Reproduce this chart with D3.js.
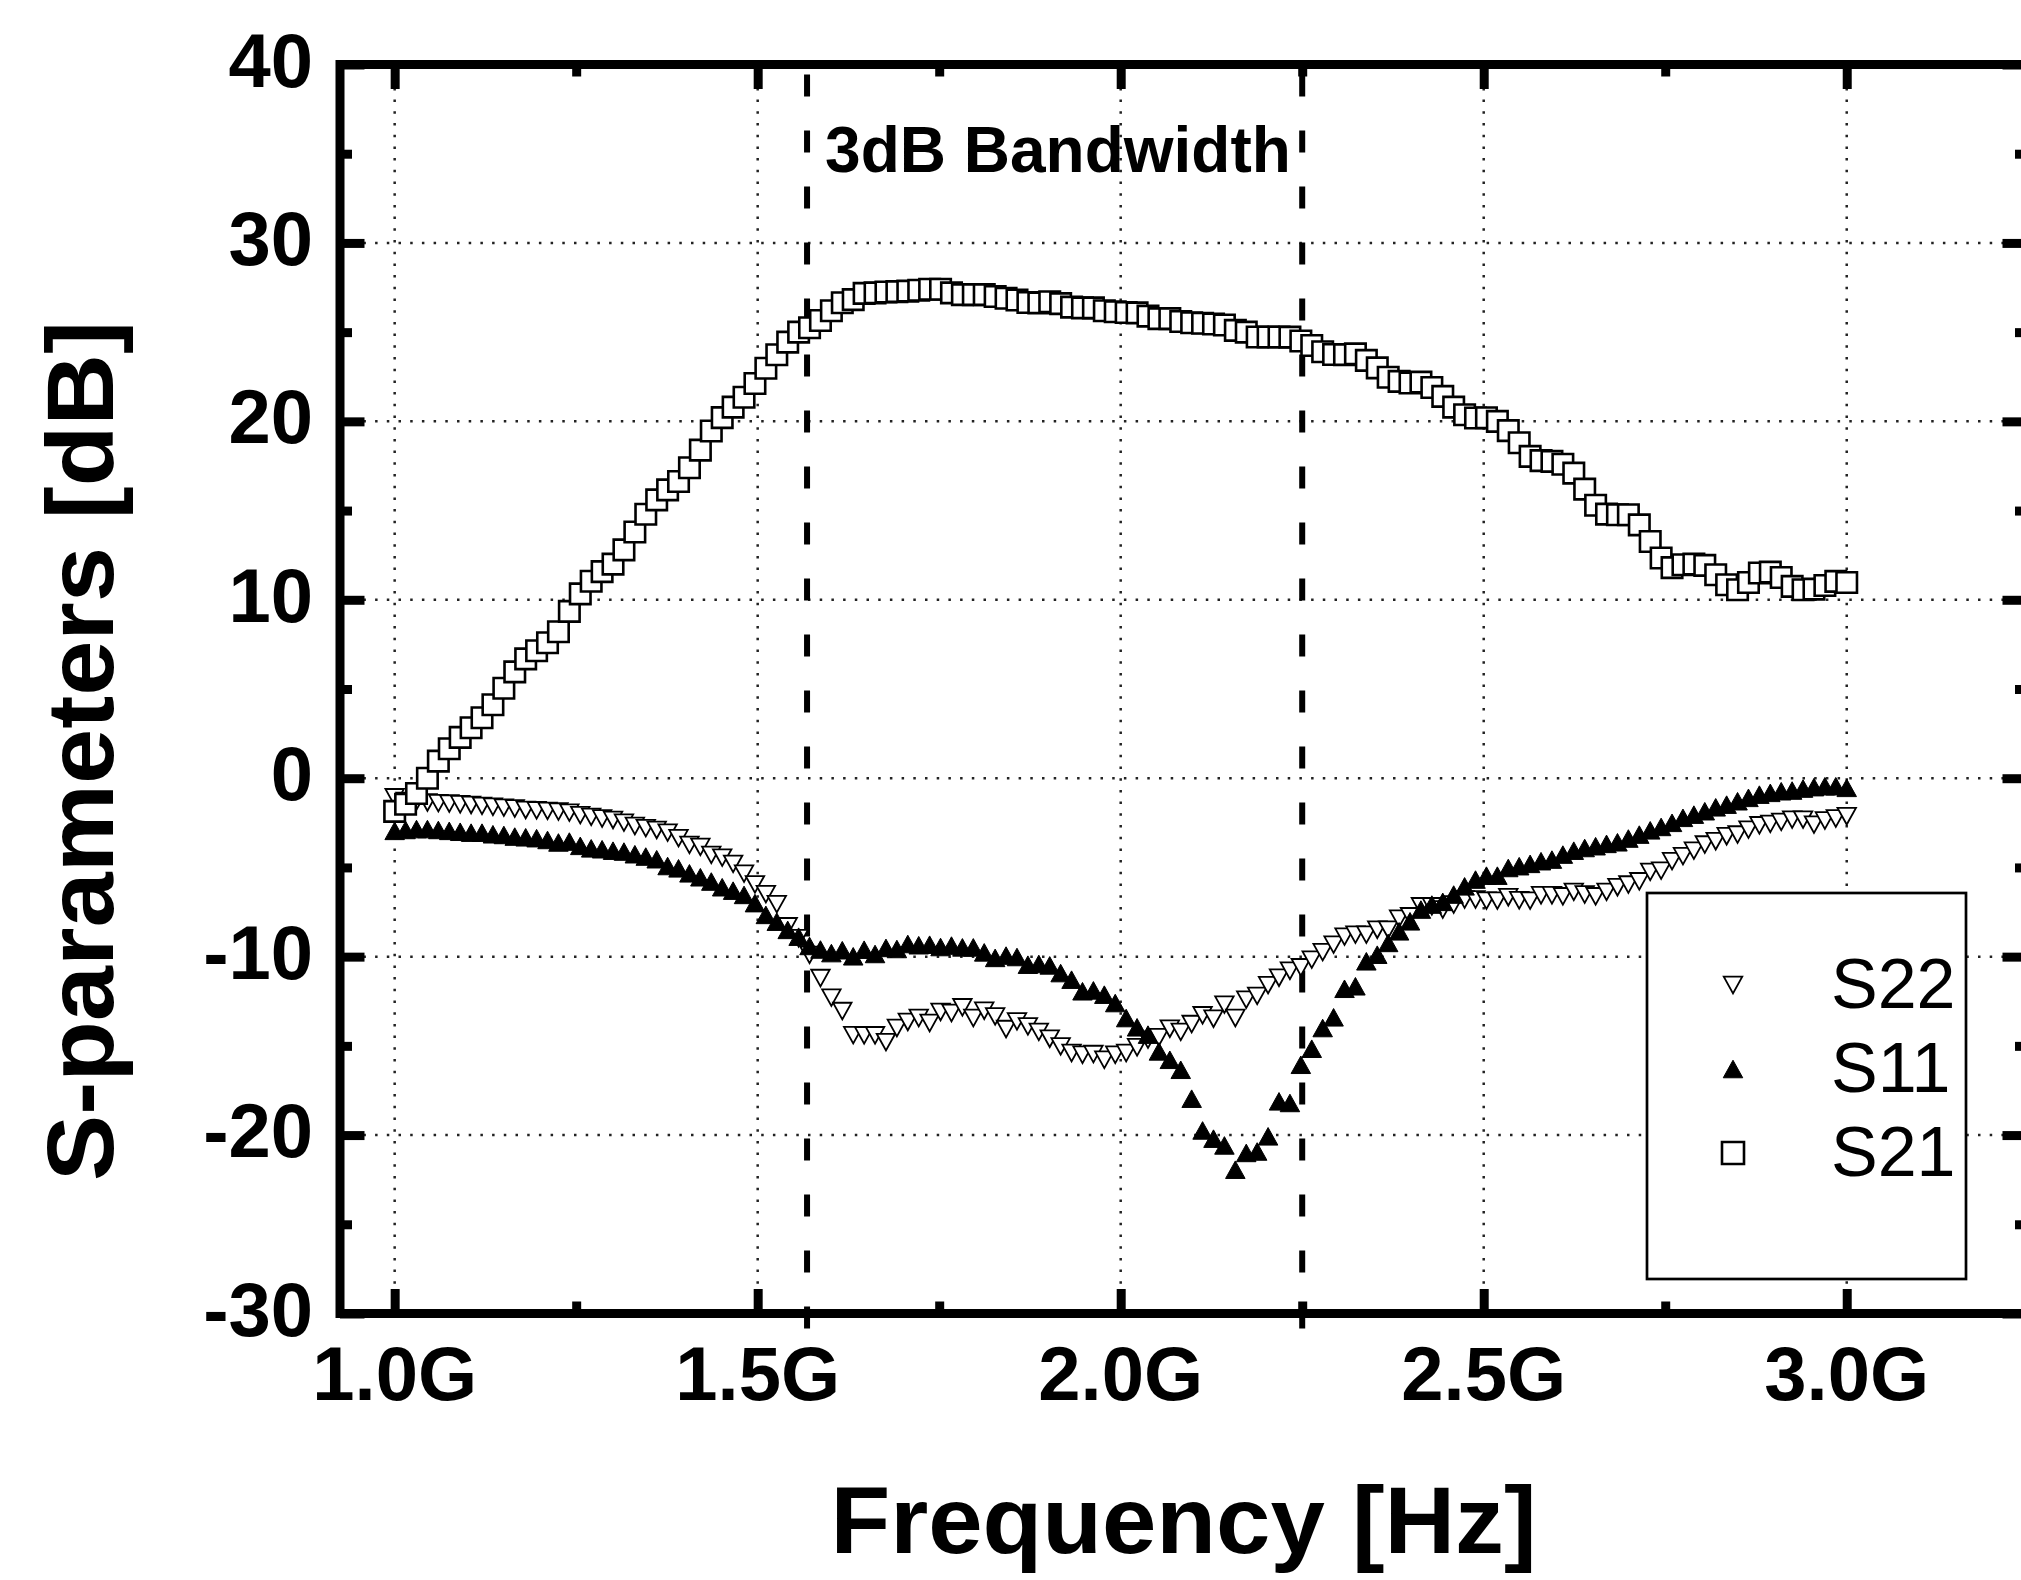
<!DOCTYPE html>
<html lang="en">
<head>
    <meta charset="UTF-8">
    <title>S-parameters vs Frequency</title>
    <script src="https://d3js.org/d3.v7.min.js"></script>
    <style>
        body { margin: 0; background: #fff; }
        svg { display: block; }
        .tick-label { font-family: "Liberation Sans", Arial, sans-serif; font-weight: bold; font-size: 76px; }
        .axis-title { font-family: "Liberation Sans", Arial, sans-serif; font-weight: bold; font-size: 94px; }
    </style>
</head>
<body>
<svg id="chart" width="2021" height="1580"></svg>
<script>
    // Frequency sweep (GHz): 134 points from 1.0 to 3.0
    const sweepStart = 1.0, sweepStop = 3.0, sweepPoints = 134;
    const freq = d3.range(sweepPoints).map(i => sweepStart + i * (sweepStop - sweepStart) / (sweepPoints - 1));

    const s21 = [-1.86,-1.46,-0.86,0.0,0.96,1.65,2.29,2.83,3.39,4.12,
        5.04,5.96,6.69,7.14,7.59,8.21,9.35,10.33,11.04,11.58,
        12.0,12.8,13.8,14.79,15.6,16.16,16.63,17.4,18.39,19.46,
        20.21,20.8,21.35,22.12,22.98,23.73,24.44,25.0,25.25,25.65,
        26.2,26.65,26.82,27.17,27.2,27.25,27.27,27.3,27.35,27.4,
        27.4,27.2,27.1,27.1,27.1,27.0,26.9,26.8,26.66,26.64,
        26.7,26.6,26.4,26.36,26.36,26.2,26.14,26.1,26.08,25.9,
        25.76,25.76,25.6,25.53,25.5,25.46,25.4,25.1,25.0,24.73,
        24.73,24.73,24.72,24.5,24.25,23.9,23.75,23.74,23.78,23.42,
        23.0,22.47,22.24,22.15,22.2,21.9,21.4,20.8,20.37,20.19,
        20.2,20.0,19.48,18.8,18.04,17.8,17.76,17.6,17.1,16.2,
        15.3,14.8,14.77,14.77,14.2,13.27,12.34,11.8,11.96,12.0,
        11.93,11.4,10.84,10.56,10.97,11.5,11.55,11.25,10.75,10.56,
        10.6,10.8,11.03,10.97];

    const s11 = [-2.95,-2.9,-2.85,-2.85,-2.9,-2.95,-3.0,-3.05,-3.05,-3.14,
        -3.18,-3.27,-3.31,-3.36,-3.46,-3.6,-3.55,-3.79,-3.93,-3.98,
        -4.06,-4.11,-4.26,-4.39,-4.54,-4.92,-5.05,-5.33,-5.55,-5.79,
        -6.11,-6.3,-6.54,-7.0,-7.66,-8.04,-8.5,-8.88,-9.4,-9.6,
        -9.8,-9.64,-9.98,-9.61,-9.85,-9.51,-9.57,-9.29,-9.36,-9.33,
        -9.46,-9.38,-9.48,-9.48,-9.76,-10.07,-9.94,-10.02,-10.45,-10.41,
        -10.49,-10.92,-11.29,-11.94,-11.89,-12.13,-12.6,-13.44,-13.96,-14.37,
        -15.31,-15.78,-16.34,-17.96,-19.74,-20.2,-20.58,-21.94,-21.0,-20.92,
        -20.07,-18.11,-18.2,-16.06,-15.16,-14.0,-13.4,-11.8,-11.66,-10.26,
        -9.89,-9.23,-8.58,-8.02,-7.36,-7.08,-6.93,-6.52,-6.06,-5.68,
        -5.46,-5.46,-5.03,-4.93,-4.8,-4.65,-4.56,-4.28,-4.06,-3.91,
        -3.81,-3.68,-3.59,-3.38,-3.16,-2.92,-2.73,-2.5,-2.22,-2.04,
        -1.85,-1.63,-1.48,-1.29,-1.1,-0.92,-0.82,-0.73,-0.69,-0.58,
        -0.5,-0.45,-0.45,-0.54];

    const s22 = [-1.07,-1.27,-1.3,-1.36,-1.4,-1.42,-1.46,-1.5,-1.55,-1.6,
        -1.65,-1.7,-1.78,-1.8,-1.83,-1.87,-1.93,-2.07,-2.17,-2.26,
        -2.34,-2.49,-2.68,-2.8,-2.9,-3.05,-3.36,-3.74,-3.85,-4.3,
        -4.45,-4.8,-5.35,-5.95,-6.5,-7.06,-8.3,-8.97,-9.9,-11.2,
        -12.3,-13.05,-14.4,-14.41,-14.41,-14.79,-14.0,-13.66,-13.44,-13.72,
        -13.1,-13.16,-12.84,-13.44,-13.03,-13.35,-14.06,-13.63,-13.91,-14.22,
        -14.6,-15.03,-15.4,-15.5,-15.46,-15.78,-15.5,-15.4,-15.08,-14.65,
        -14.52,-14.04,-14.22,-13.78,-13.29,-13.48,-12.69,-13.44,-12.41,-12.2,
        -11.6,-11.18,-10.79,-10.6,-10.17,-9.75,-9.33,-8.88,-8.77,-8.77,
        -8.49,-8.49,-7.87,-7.74,-7.18,-7.18,-7.36,-7.08,-6.8,-6.8,
        -6.86,-6.86,-6.67,-6.84,-6.86,-6.56,-6.56,-6.62,-6.37,-6.52,
        -6.62,-6.37,-6.11,-5.96,-5.78,-5.25,-5.18,-4.65,-4.37,-4.06,
        -3.72,-3.53,-3.25,-3.16,-2.88,-2.64,-2.56,-2.45,-2.32,-2.32,
        -2.6,-2.37,-2.26,-2.13];

    const xMajorTicks = [1.0, 1.5, 2.0, 2.5, 3.0];
    const xTickLabels = ["1.0G", "1.5G", "2.0G", "2.5G", "3.0G"];
    const xMinorTicks = [1.25, 1.75, 2.25, 2.75, 3.25];
    const yMajorTicks = [-30, -20, -10, 0, 10, 20, 30, 40];
    const yMinorTicks = [-25, -15, -5, 5, 15, 25, 35];
    const bandEdges = [1.568, 2.25];
    const bandLabel = "3dB Bandwidth";

    const svg = d3.select("#chart");

    // Frame in pixels
    const plotLeft = 340, plotRight = 2027, plotTop = 64.5, plotBottom = 1313.5;

    const x = d3.scaleLinear().domain([0.9247, 3.2483]).range([plotLeft, plotRight]);
    const y = d3.scaleLinear().domain([-30, 40]).range([plotBottom, plotTop]);

    // Dotted grid
    const grid = svg.append("g")
        .attr("stroke", "#222")
        .attr("stroke-width", 2.5)
        .attr("stroke-dasharray", "2.5,9.2");
    grid.selectAll(".gx").data(xMajorTicks).enter().append("line")
        .attr("x1", d => x(d)).attr("x2", d => x(d))
        .attr("y1", plotTop).attr("y2", plotBottom);
    grid.selectAll(".gy").data(yMajorTicks.filter(v => v > -30 && v < 40)).enter().append("line")
        .attr("x1", plotLeft).attr("x2", plotRight)
        .attr("y1", d => y(d)).attr("y2", d => y(d));

    // Dashed 3dB band edges
    svg.append("g").selectAll("line").data(bandEdges).enter().append("line")
        .attr("x1", d => x(d)).attr("x2", d => x(d))
        .attr("y1", plotTop).attr("y2", plotBottom + 21)
        .attr("stroke", "#000")
        .attr("stroke-width", 6)
        .attr("stroke-dasharray", "22,34")
        .attr("stroke-dashoffset", 46);

    svg.append("text")
        .attr("x", x(bandEdges[0]) + 18)
        .attr("y", 172)
        .attr("font-family", "Liberation Sans, Arial, sans-serif")
        .attr("font-weight", "bold")
        .attr("font-size", 64)
        .text(bandLabel);

    // Ticks via d3 axes (inward), domain line drawn separately
    function styleAxis(g) {
        g.select(".domain").remove();
        g.selectAll("text").remove();
        g.selectAll("line").attr("stroke", "#000").attr("stroke-width", 9);
    }
    const majorLen = 24.5, minorLen = 12;
    svg.append("g").attr("transform", `translate(0,${plotBottom})`)
        .call(d3.axisTop(x).tickValues(xMajorTicks).tickSize(majorLen)).call(styleAxis);
    svg.append("g").attr("transform", `translate(0,${plotBottom})`)
        .call(d3.axisTop(x).tickValues(xMinorTicks).tickSize(minorLen)).call(styleAxis);
    svg.append("g").attr("transform", `translate(0,${plotTop})`)
        .call(d3.axisBottom(x).tickValues(xMajorTicks).tickSize(majorLen)).call(styleAxis);
    svg.append("g").attr("transform", `translate(0,${plotTop})`)
        .call(d3.axisBottom(x).tickValues(xMinorTicks).tickSize(minorLen)).call(styleAxis);
    svg.append("g").attr("transform", `translate(${plotLeft},0)`)
        .call(d3.axisRight(y).tickValues(yMajorTicks).tickSize(majorLen)).call(styleAxis);
    svg.append("g").attr("transform", `translate(${plotLeft},0)`)
        .call(d3.axisRight(y).tickValues(yMinorTicks).tickSize(minorLen)).call(styleAxis);
    svg.append("g").attr("transform", `translate(${plotRight},0)`)
        .call(d3.axisLeft(y).tickValues(yMajorTicks).tickSize(majorLen)).call(styleAxis);
    svg.append("g").attr("transform", `translate(${plotRight},0)`)
        .call(d3.axisLeft(y).tickValues(yMinorTicks).tickSize(minorLen)).call(styleAxis);

    svg.append("rect")
        .attr("x", plotLeft).attr("y", plotTop)
        .attr("width", plotRight - plotLeft).attr("height", plotBottom - plotTop)
        .attr("fill", "none").attr("stroke", "#000").attr("stroke-width", 9);

    // Tick labels
    svg.append("g").selectAll("text").data(yMajorTicks).enter().append("text")
        .attr("class", "tick-label")
        .attr("x", 313)
        .attr("y", d => y(d) + 22)
        .attr("text-anchor", "end")
        .text(d => d);
    svg.append("g").selectAll("text").data(xMajorTicks).enter().append("text")
        .attr("class", "tick-label")
        .attr("x", d => x(d))
        .attr("y", 1400)
        .attr("text-anchor", "middle")
        .text((d, i) => xTickLabels[i]);

    // Axis titles (slightly widened bold sans)
    svg.append("text").attr("class", "axis-title")
        .attr("x", (plotLeft + plotRight) / 2).attr("y", 1553)
        .attr("text-anchor", "middle")
        .attr("textLength", 706).attr("lengthAdjust", "spacingAndGlyphs")
        .text("Frequency [Hz]");
    svg.append("text").attr("class", "axis-title")
        .attr("transform", "translate(113,751) rotate(-90)")
        .attr("text-anchor", "middle")
        .attr("textLength", 860).attr("lengthAdjust", "spacingAndGlyphs")
        .text("S-parameters [dB]");

    // Marker shapes (bounding-box centred triangles)
    const triUp = { draw(ctx, size) { const w = size / 2, h = size * 0.45;
        ctx.moveTo(0, -h); ctx.lineTo(w, h); ctx.lineTo(-w, h); ctx.closePath(); } };
    const triDown = { draw(ctx, size) { const w = size / 2, h = size * 0.45;
        ctx.moveTo(-w, -h); ctx.lineTo(w, -h); ctx.lineTo(0, h); ctx.closePath(); } };
    const square = { draw(ctx, size) { const h = size / 2; ctx.rect(-h, -h, size, size); } };

    const series = [
        { name: "S22", values: s22, type: triDown, size: 18.5, fill: "#fff", sw: 1.8 },
        { name: "S11", values: s11, type: triUp, size: 19.5, fill: "#000", sw: 1 },
        { name: "S21", values: s21, type: square, size: 20.5, fill: "#fff", sw: 2.6 }
    ];

    series.forEach(s => {
        svg.append("g").selectAll("path").data(s.values).enter().append("path")
            .attr("transform", (d, i) => `translate(${x(freq[i])},${y(d)})`)
            .attr("d", d3.symbol().type(s.type).size(s.size))
            .attr("fill", s.fill)
            .attr("stroke", "#000")
            .attr("stroke-width", s.sw);
    });

    // Legend
    const legend = svg.append("g");
    legend.append("rect")
        .attr("x", 1647).attr("y", 893).attr("width", 319).attr("height", 386)
        .attr("fill", "#fff").attr("stroke", "#000").attr("stroke-width", 2.7);
    const legendY = d3.scalePoint().domain(series.map(s => s.name)).range([985, 1153]);
    series.forEach(s => {
        legend.append("path")
            .attr("transform", `translate(1733,${legendY(s.name)})`)
            .attr("d", d3.symbol().type(s.type).size(s.type === square ? 22 : s.size))
            .attr("fill", s.fill).attr("stroke", "#000").attr("stroke-width", s.sw);
        legend.append("text")
            .attr("x", 1831).attr("y", legendY(s.name) + 23)
            .attr("font-family", "Liberation Sans, Arial, sans-serif")
            .attr("font-size", 70)
            .text(s.name);
    });
</script>
</body>
</html>
